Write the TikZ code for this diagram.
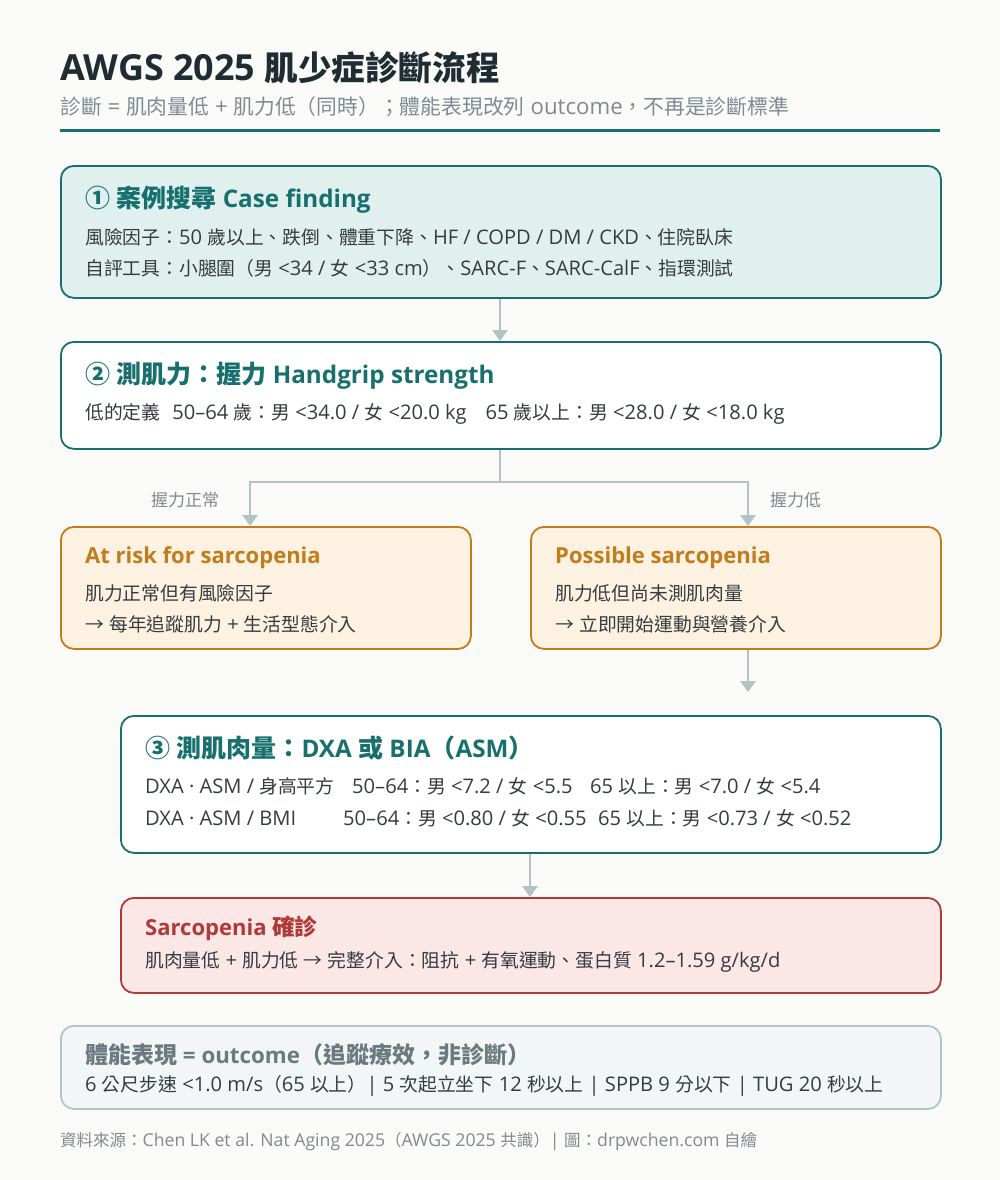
\documentclass[tikz,border=0pt]{standalone}
\usepackage{fontspec}
\setmainfont[Scale=1.07]{Open Sans}
\newfontfamily\boldlatin[Scale=0.97]{Open Sans}
\newfontfamily\cjkfont{Noto Sans CJK TC}
\XeTeXinterchartokenstate=1
\newXeTeXintercharclass\CJKcls
\newcount\cjkcc
\def\setcjkrange#1#2{\cjkcc=#1 \loop \XeTeXcharclass\cjkcc=\CJKcls \ifnum\cjkcc<#2 \advance\cjkcc 1 \repeat}
\setcjkrange{"2460}{"24FF}
\setcjkrange{"2190}{"21FF}
\setcjkrange{"3000}{"303F}
\setcjkrange{"3400}{"9FFF}
\setcjkrange{"FF00}{"FFEF}
\XeTeXinterchartoks 0 \CJKcls = {\begingroup\cjkfont}
\XeTeXinterchartoks 4095 \CJKcls = {\begingroup\cjkfont}
\XeTeXinterchartoks \CJKcls 0 = {\endgroup}
\XeTeXinterchartoks \CJKcls 4095 = {\endgroup}
\usetikzlibrary{arrows.meta}
\definecolor{bgc}{HTML}{FAFAF8}
\definecolor{teal}{HTML}{17706E}
\definecolor{titlec}{HTML}{1F2D33}
\definecolor{subc}{HTML}{7F8B8F}
\definecolor{arrowc}{HTML}{B2C2C5}
\definecolor{tealfill}{HTML}{DFF0EF}
\definecolor{orange}{HTML}{C27C1A}
\definecolor{orangefill}{HTML}{FDF2E1}
\definecolor{redc}{HTML}{B03A37}
\definecolor{redfill}{HTML}{FCE7E7}
\definecolor{grayfill}{HTML}{F3F6F7}
\definecolor{grayline}{HTML}{B3C4C7}
\definecolor{graytitle}{HTML}{6B7A7E}
\definecolor{bodyc}{HTML}{363C3E}
\begin{document}
\begin{tikzpicture}[x=1pt,y=-1pt,
  box/.style={draw, line width=1.8pt, rounded corners=13pt, anchor=north west, inner sep=0pt},
  ttl/.style={anchor=west, inner sep=0pt, font=\boldlatin\fontsize{25}{29}\selectfont\bfseries},
  sttl/.style={anchor=west, inner sep=0pt, font=\boldlatin\fontsize{22.7}{27}\selectfont\bfseries},
  body/.style={anchor=west, inner sep=0pt, text=bodyc, font=\fontsize{18.8}{22}\selectfont},
  lbl/.style={anchor=west, inner sep=0pt, text=subc, font=\fontsize{17}{20}\selectfont},
  conn/.style={draw=arrowc, line width=2.6pt, -{Triangle[width=15pt,length=11pt]}}
]
\useasboundingbox (0,0) rectangle (1000,1180);
\fill[bgc] (0,0) rectangle (1000,1180);

% header
\node[anchor=west, inner sep=0pt, text=titlec, font=\fontsize{33.6}{38}\selectfont\bfseries] (title) at (60,68) {AWGS 2025 肌少症診斷流程};
\node[anchor=west, inner sep=0pt, text=subc, font=\fontsize{20.8}{24}\selectfont] (sub) at (60,107) {診斷 = 肌肉量低 + 肌力低（同時）；體能表現改列 outcome，不再是診斷標準};
\draw[teal, line width=3pt] (60,131) -- (940,131);

% box 1
\node[box, draw=teal, fill=tealfill, minimum width=880, minimum height=132] (b1) at (60,165) {};
\node[ttl, text=teal] (b1t) at (85,200) {① 案例搜尋 Case finding};
\node[body] (b1a) at (85,237) {風險因子：50 歲以上、跌倒、體重下降、HF / COPD / DM / CKD、住院臥床};
\node[body] (b1b) at (85,268) {自評工具：小腿圍（男 <34 / 女 <33 cm）、SARC-F、SARC-CalF、指環測試};

% box 2
\node[box, draw=teal, fill=white, minimum width=880, minimum height=107] (b2) at (60,341) {};
\node[ttl, text=teal] (b2t) at (85,376) {② 測肌力：握力 Handgrip strength};
\node[body] (b2a) at (85,414) {低的定義\hspace{12pt}50–64 歲：男 <34.0 / 女 <20.0 kg\hspace{19pt}65 歲以上：男 <28.0 / 女 <18.0 kg};

% branch boxes
\node[box, draw=orange, fill=orangefill, minimum width=410, minimum height=122] (atrisk) at (60,526) {};
\node[sttl, text=orange] (art) at (85,558) {At risk for sarcopenia};
\node[body] (ara) at (85,593) {肌力正常但有風險因子};
\node[body] (arb) at (85,624) {→ 每年追蹤肌力 + 生活型態介入};

\node[box, draw=orange, fill=orangefill, minimum width=410, minimum height=122] (poss) at (530,526) {};
\node[sttl, text=orange] (pst) at (555,558) {Possible sarcopenia};
\node[body] (psa) at (555,593) {肌力低但尚未測肌肉量};
\node[body] (psb) at (555,624) {→ 立即開始運動與營養介入};

% box 3
\node[box, draw=teal, fill=white, minimum width=820, minimum height=137] (b3) at (120,715) {};
\node[ttl, text=teal] (b3t) at (145,748) {③ 測肌肉量：DXA 或 BIA（ASM）};
\node[body] (b3a1) at (145,786) {DXA · ASM / 身高平方};
\node[body] (b3a2) at (352,786) {50–64：男 <7.2 / 女 <5.5};
\node[body] (b3a3) at (590,786) {65 以上：男 <7.0 / 女 <5.4};
\node[body] (b3b1) at (145,818) {DXA · ASM / BMI};
\node[body] (b3b2) at (343,818) {50–64：男 <0.80 / 女 <0.55};
\node[body] (b3b3) at (598,818) {65 以上：男 <0.73 / 女 <0.52};

% box 4
\node[box, draw=redc, fill=redfill, minimum width=820, minimum height=95] (b4) at (120,897) {};
\node[sttl, text=redc] (b4t) at (145,928) {Sarcopenia 確診};
\node[body] (b4a) at (145,962) {肌肉量低 + 肌力低 → 完整介入：阻抗 + 有氧運動、蛋白質 1.2–1.59 g/kg/d};

% box 5
\node[box, draw=grayline, fill=grayfill, minimum width=880, minimum height=83] (b5) at (60,1025) {};
\node[ttl, text=graytitle, font=\boldlatin\fontsize{23}{27}\selectfont\bfseries] (b5t) at (85,1055) {體能表現 = outcome（追蹤療效，非診斷）};
\node[body] (b5a) at (85,1086) {6 公尺步速 <1.0 m/s（65 以上）| 5 次起立坐下 12 秒以上 | SPPB 9 分以下 | TUG 20 秒以上};

% footer
\node[lbl, font=\fontsize{16.5}{20}\selectfont] (foot) at (60,1142) {資料來源：Chen LK et al. Nat Aging 2025（AWGS 2025 共識）| 圖：drpwchen.com 自繪};

% connectors
\draw[conn] (b1.south -| 500,0) -- (b2.north -| 500,0);
\coordinate (split) at (500,482);
\draw[conn] (b2.south -| 500,0) -- (split) -| (atrisk.north -| 250,0);
\draw[conn] (split) -| (poss.north -| 748,0);
\node[lbl] (lblok) at (151,500) {握力正常};
\node[lbl] (lbllow) at (770,500) {握力低};
\coordinate (p3) at (748,692);
\draw[conn] (poss.south -| 748,0) -- (p3);
\draw[conn] (b3.south -| 530,0) -- (b4.north -| 530,0);
\end{tikzpicture}
\end{document}
